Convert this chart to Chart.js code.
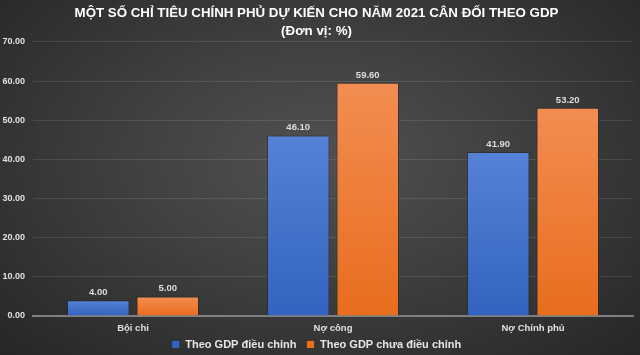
<!DOCTYPE html>
<html>
<head>
<meta charset="utf-8">
<script src="https://cdn.jsdelivr.net/npm/chart.js@4.4.1/dist/chart.umd.min.js"></script>
<style>
html,body{margin:0;padding:0;}
body{width:640px;height:355px;overflow:hidden;background:#2b2b2b;}
#wrap{width:640px;height:355px;background:radial-gradient(ellipse at 50% 45%, #515151 0%, #414141 40%, #262626 100%);}
canvas{display:block;}
</style>
</head>
<body>
<div id="wrap"><canvas id="c" width="640" height="355"></canvas></div>
<script>
const categories = ['Bội chi', 'Nợ công', 'Nợ Chính phủ'];
const seriesNames = ['Theo GDP điều chỉnh', 'Theo GDP chưa điều chỉnh'];
const adjusted = [4.00, 46.10, 41.90];
const unadjusted = [5.00, 59.60, 53.20];
const titleLines = ['MỘT SỐ CHỈ TIÊU CHÍNH PHỦ DỰ KIẾN CHO NĂM 2021 CÂN ĐỐI THEO GDP', '(Đơn vị: %)'];
const yTicks = { min: 0, max: 70, step: 10 };

function barGradient(top, bottom) {
  return function (context) {
    const chart = context.chart;
    const area = chart.chartArea;
    if (!area || context.raw === undefined) return top;
    const y = chart.scales.y;
    const yTop = y.getPixelForValue(context.raw);
    const yBot = y.getPixelForValue(0);
    if (!isFinite(yTop) || yBot - yTop < 1) return top;
    const g = chart.ctx.createLinearGradient(0, yTop, 0, yBot);
    g.addColorStop(0, top);
    g.addColorStop(1, bottom);
    return g;
  };
}

const valueLabels = {
  id: 'valueLabels',
  afterDatasetsDraw(chart) {
    const ctx = chart.ctx;
    ctx.save();
    ctx.font = 'bold 9.5px "Liberation Sans", Arial, sans-serif';
    ctx.fillStyle = '#dcdcdc';
    ctx.textAlign = 'center';
    ctx.textBaseline = 'bottom';
    chart.data.datasets.forEach((ds, i) => {
      const meta = chart.getDatasetMeta(i);
      meta.data.forEach((el, j) => {
        ctx.fillText(ds.data[j].toFixed(2), el.x, el.y - 3);
      });
    });
    ctx.restore();
  }
};

const compactLegend = {
  id: 'compactLegend',
  afterInit(chart) {
    const lg = chart.legend;
    if (!lg) return;
    const origFit = lg.fit;
    lg.fit = function () { origFit.call(this); this.height = 19; };
    const origDraw = lg.draw;
    lg.draw = function () {
      const ctx = this.ctx;
      ctx.save();
      ctx.translate(0, -7);
      origDraw.call(this);
      ctx.restore();
    };
  }
};

new Chart(document.getElementById('c'), {
  type: 'bar',
  data: {
    labels: categories,
    datasets: [
      {
        label: seriesNames[0],
        data: adjusted,
        backgroundColor: barGradient('#5582d6', '#3363c0'),
        borderColor: 'rgba(35,35,35,0.55)',
        borderWidth: 1,
        categoryPercentage: 0.695,
        barPercentage: 0.9
      },
      {
        label: seriesNames[1],
        data: unadjusted,
        backgroundColor: barGradient('#f38d52', '#e86d1d'),
        borderColor: 'rgba(35,35,35,0.55)',
        borderWidth: 1,
        categoryPercentage: 0.695,
        barPercentage: 0.9
      }
    ]
  },
  options: {
    responsive: false,
    animation: false,
    devicePixelRatio: 1,
    layout: { padding: { left: 0, right: 7, top: 2, bottom: 0 } },
    plugins: {
      title: {
        display: true,
        text: titleLines,
        color: '#ffffff',
        font: { family: '"Liberation Sans", Arial, sans-serif', size: 13.3, weight: 'bold', lineHeight: 1.35 },
        padding: { top: 2, bottom: 2 }
      },
      legend: {
        position: 'bottom',
        labels: {
          color: '#e6e6e6',
          boxWidth: 8,
          boxHeight: 8,
          padding: 10,
          font: { family: '"Liberation Sans", Arial, sans-serif', size: 11, weight: 'bold' }
        }
      },
      tooltip: { enabled: false }
    },
    scales: {
      x: {
        afterFit(scale) { scale.height = 20; },
        grid: { display: false, drawTicks: false },
        border: { display: true, color: '#808080', width: 2 },
        ticks: {
          color: '#e0e0e0',
          padding: 7,
          font: { family: '"Liberation Sans", Arial, sans-serif', size: 9.5, weight: 'bold' }
        }
      },
      y: {
        min: yTicks.min,
        max: yTicks.max,
        afterFit(scale) { scale.width = 33; },
        border: { display: false },
        grid: {
          color: (c) => c.tick && c.tick.value === 0 ? 'rgba(0,0,0,0)' : 'rgba(255,255,255,0.1)',
          lineWidth: 1,
          drawTicks: false
        },
        ticks: {
          stepSize: yTicks.step,
          color: '#e0e0e0',
          padding: 8,
          font: { family: '"Liberation Sans", Arial, sans-serif', size: 9, weight: 'bold' },
          callback: (v) => Number(v).toFixed(2)
        }
      }
    }
  },
  plugins: [valueLabels, compactLegend]
});
</script>
</body>
</html>
